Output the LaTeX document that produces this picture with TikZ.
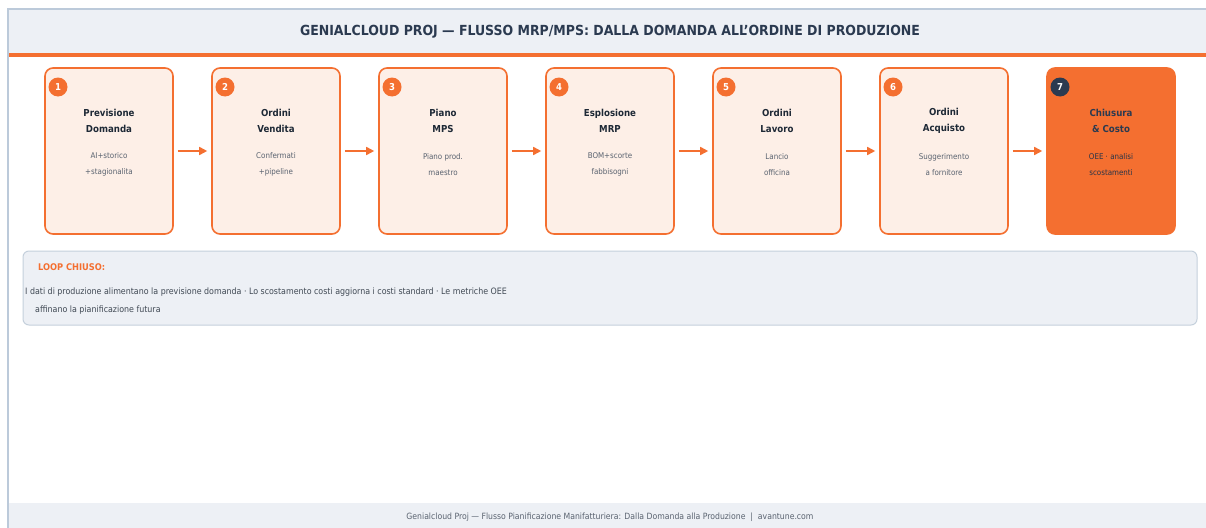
\documentclass[tikz,border=0pt]{standalone}
\usepackage{fontspec}
\setmainfont{DejaVu Sans Condensed}
\usepackage{xcolor}
\usepackage{tikz}
\definecolor{brandorange}{HTML}{F46F30}
\definecolor{peach}{HTML}{FDEFE7}
\definecolor{navy}{HTML}{2B3A50}
\definecolor{inktext}{HTML}{1E2936}
\definecolor{greytext}{HTML}{5A6370}
\definecolor{panelgrey}{HTML}{EDF0F5}
\definecolor{panelline}{HTML}{C5D0DC}
\definecolor{framegrey}{HTML}{BCCADA}
\tikzset{
    stage/.style={draw=brandorange, line width=1.6pt, fill=peach, rounded corners=8pt, minimum width=128pt, minimum height=166pt},
    stagelast/.style={stage, fill=brandorange},
    badge/.style={circle, fill=brandorange, text=white, font=\bfseries\fontsize{9.5}{10}\selectfont, inner sep=0pt, minimum size=19pt},
    badgelast/.style={badge, fill=navy},
    stitle/.style={font=\bfseries\fontsize{9.6}{16}\selectfont, text=inktext, align=center},
    sdesc/.style={font=\fontsize{7.9}{16}\selectfont, text=greytext, align=center},
    flow/.style={->, >={Triangle[length=8pt, width=8pt]}, line width=1.6pt, brandorange, shorten <=4pt, shorten >=4pt}
}
\usetikzlibrary{arrows.meta}
\begin{document}
\begin{tikzpicture}[x=1pt, y=-1pt]
    \useasboundingbox (0,0) rectangle (1206,527);
    % Frame and header
    \begin{scope}
    \clip (0,0) rectangle (1206,527);
    \fill[white] (8,9) rectangle (1220,540);
    \fill[panelgrey] (8,9) rectangle (1220,53);
    \fill[brandorange] (8,53) rectangle (1220,57.5);
    \fill[panelgrey] (8,503) rectangle (1220,540);
    \draw[framegrey, line width=1.5pt] (8,9) rectangle (1220,540);
    \end{scope}
    \node[font=\bfseries\fontsize{13.9}{14}\selectfont, text=navy] (title) at (610,32) {GENIALCLOUD PROJ — FLUSSO MRP/MPS: DALLA DOMANDA ALL'ORDINE DI PRODUZIONE};

    % Stages
    \node[stage] (s1) at (109,151) {};
    \node[stage] (s2) at (276,151) {};
    \node[stage] (s3) at (443,151) {};
    \node[stage] (s4) at (610,151) {};
    \node[stage] (s5) at (777,151) {};
    \node[stage] (s6) at (944,151) {};
    \node[stagelast] (s7) at (1111,151) {};

    % Step numbers
    \node[badge] (n1) at (58,87) {1};
    \node[badge] (n2) at (225,87) {2};
    \node[badge] (n3) at (392,87) {3};
    \node[badge] (n4) at (559,87) {4};
    \node[badge] (n5) at (726,87) {5};
    \node[badge] (n6) at (893,87) {6};
    \node[badgelast] (n7) at (1060,87) {7};

    % Stage titles
    \node[stitle] (t1) at (109,120.5) {Previsione\\Domanda};
    \node[stitle] (t2) at (276,120.5) {Ordini\\Vendita};
    \node[stitle] (t3) at (443,120.5) {Piano\\MPS};
    \node[stitle] (t4) at (610,120.5) {Esplosione\\MRP};
    \node[stitle] (t5) at (777,120.5) {Ordini\\Lavoro};
    \node[stitle] (t6) at (944,120.5) {Ordini\\Acquisto};
    \node[stitle, text=navy] (t7) at (1111,120.5) {Chiusura\\\& Costo};

    % Stage details
    \node[sdesc] (d1) at (109,164.5) {AI+storico\\+stagionalita};
    \node[sdesc] (d2) at (276,164.5) {Confermati\\+pipeline};
    \node[sdesc] (d3) at (443,164.5) {Piano prod.\\maestro};
    \node[sdesc] (d4) at (610,164.5) {BOM+scorte\\fabbisogni};
    \node[sdesc] (d5) at (777,164.5) {Lancio\\officina};
    \node[sdesc] (d6) at (944,164.5) {Suggerimento\\a fornitore};
    \node[sdesc, text=navy!90!black] (d7) at (1111,164.5) {OEE · analisi\\scostamenti};

    % Flow arrows
    \draw[flow] (s1) -- (s2);
    \draw[flow] (s2) -- (s3);
    \draw[flow] (s3) -- (s4);
    \draw[flow] (s4) -- (s5);
    \draw[flow] (s5) -- (s6);
    \draw[flow] (s6) -- (s7);

    % Closed loop note
    \node[draw=panelline, line width=1pt, fill=panelgrey, rounded corners=6pt, minimum width=1174pt, minimum height=74pt] (loop) at (610,288) {};
    \node[anchor=west, font=\bfseries\fontsize{9.2}{10}\selectfont, text=brandorange, inner sep=0pt] (looptitle) at (38,267) {LOOP CHIUSO:};
    \node[anchor=north west, align=left, font=\fontsize{8.8}{18}\selectfont, text=inktext!85, inner sep=0pt] (loopnote) at (25,288) {I dati di produzione alimentano la previsione domanda · Lo scostamento costi aggiorna i costi standard · Le metriche OEE\\\hspace*{10pt}affinano la pianificazione futura};

    % Footer
    \node[font=\fontsize{8.6}{9}\selectfont, text=greytext] (footer) at (610,517) {Genialcloud Proj — Flusso Pianificazione Manifatturiera: Dalla Domanda alla Produzione \ | \ avantune.com};
\end{tikzpicture}
\end{document}
